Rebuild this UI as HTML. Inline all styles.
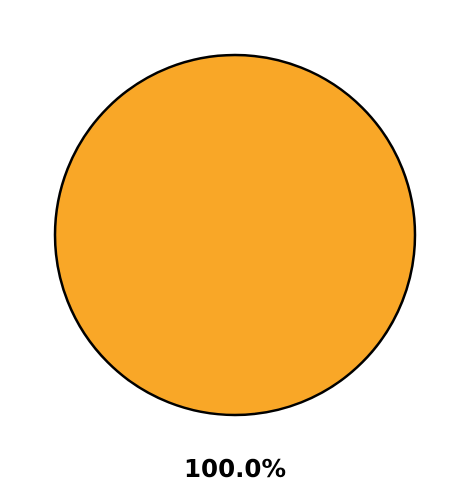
<!DOCTYPE html>
<html>
<head>
<meta charset="utf-8">
<style>
  html, body { margin: 0; padding: 0; background: #ffffff; }
  svg { display: block; }
</style>
</head>
<body>
<svg id="chart" width="470" height="491" viewBox="0 0 470 491" xmlns="http://www.w3.org/2000/svg"></svg>
<script>
const categories = ["Category A"];
const values = [100];
const colors = ["#F9A727"];

const svg = document.getElementById('chart');
const NS = 'http://www.w3.org/2000/svg';
const cx = 235, cy = 235, r = 180, labelR = 233;
const total = values.reduce((a, b) => a + b, 0);
let angle = -Math.PI / 2;

values.forEach((v, i) => {
  const frac = v / total;
  const a0 = angle, a1 = angle + frac * 2 * Math.PI;
  let el;
  if (frac >= 0.9999) {
    el = document.createElementNS(NS, 'circle');
    el.setAttribute('cx', cx);
    el.setAttribute('cy', cy);
    el.setAttribute('r', r);
  } else {
    el = document.createElementNS(NS, 'path');
    const x0 = cx + r * Math.cos(a0), y0 = cy + r * Math.sin(a0);
    const x1 = cx + r * Math.cos(a1), y1 = cy + r * Math.sin(a1);
    const large = frac > 0.5 ? 1 : 0;
    el.setAttribute('d', `M${cx},${cy} L${x0},${y0} A${r},${r} 0 ${large} 1 ${x1},${y1} Z`);
  }
  el.setAttribute('fill', colors[i % colors.length]);
  el.setAttribute('stroke', '#000');
  el.setAttribute('stroke-width', '2.5');
  
  
  svg.appendChild(el);

  const mid = (a0 + a1) / 2;
  const t = document.createElementNS(NS, 'text');
  t.setAttribute('x', cx + labelR * Math.cos(mid));
  t.setAttribute('y', cy + labelR * Math.sin(mid) + 9);
  t.setAttribute('text-anchor', 'middle');
  t.setAttribute('font-family', '"DejaVu Sans", "Liberation Sans", sans-serif');
  t.setAttribute('font-weight', 'bold');
  t.setAttribute('font-size', '24.5');
  t.setAttribute('fill', '#000');
  t.textContent = (frac * 100).toFixed(1) + '%';
  
  
  svg.appendChild(t);

  angle = a1;
});
</script>
</body>
</html>
